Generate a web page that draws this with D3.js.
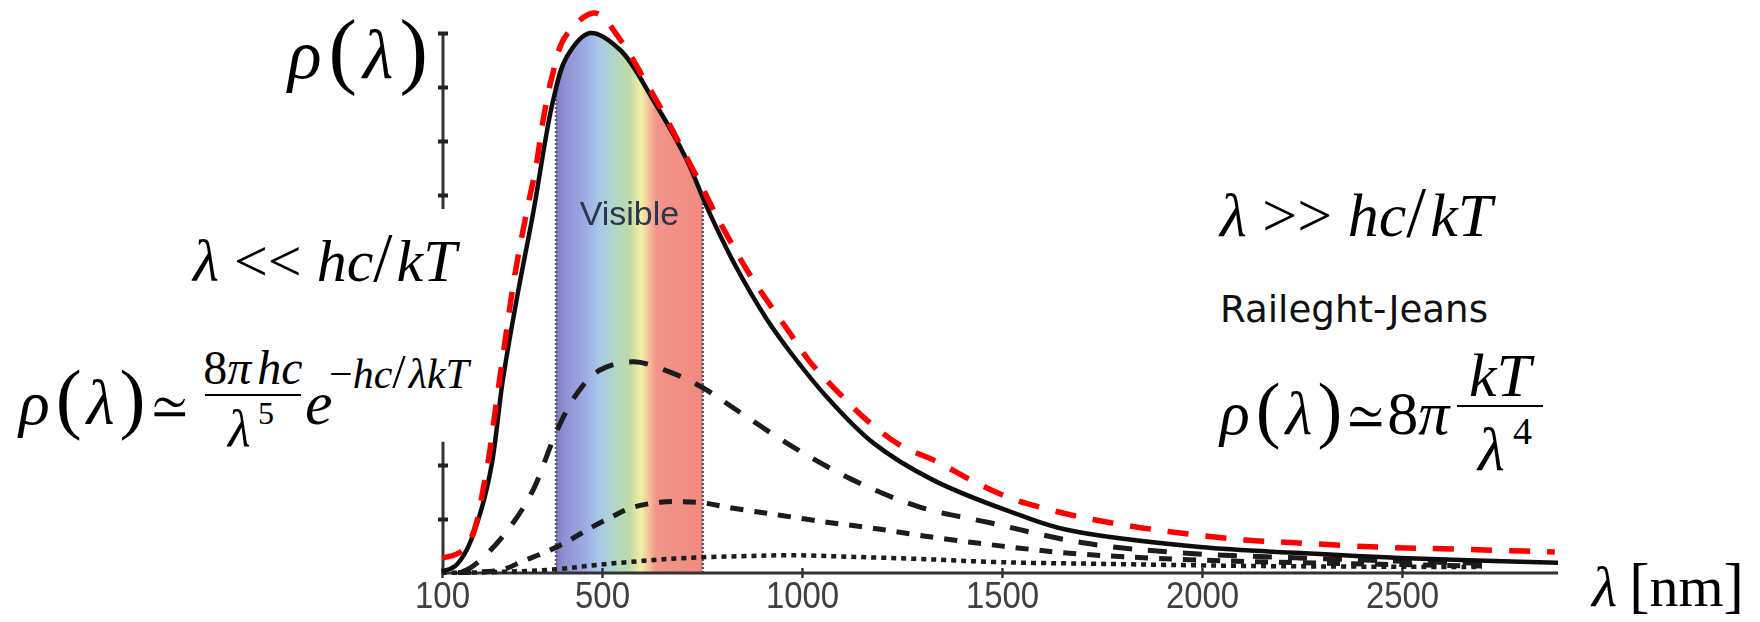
<!DOCTYPE html>
<html>
<head>
<meta charset="utf-8">
<script src="https://cdnjs.cloudflare.com/ajax/libs/d3/7.8.5/d3.min.js"></script>
<style>
  html, body { margin: 0; padding: 0; background: #fff; }
  svg { display: block; }
</style>
</head>
<body>
<script>
const width = 1760, height = 622;

// axis ticks
const xTicks = [100, 500, 1000, 1500, 2000, 2500];
const yTicksTop = [7, 8, 9, 10];
const yTicksBottom = [1, 2];
const visibleBand = [385, 752];

// curves: [wavelength nm, rho (arb. units)]
const solidCurve = [[100,0.03],[133,0.13],[162,0.43],[200,1.22],[225,2.04],[252,3.57],[290,5.2],[328,6.67],[378,8.76],[412,9.56],[470,10.0],[545,9.69],[628,8.76],[712,7.65],[762,6.78],[830,5.74],[912,4.7],[980,4.0],[1062,3.26],[1178,2.41],[1328,1.72],[1545,1.07],[1662,0.8],[1995,0.48],[2245,0.37],[2495,0.28],[2890,0.19]];
const longDashCurve = [[150,0.02],[170,0.09],[220,0.41],[278,0.93],[328,1.54],[388,2.65],[438,3.33],[495,3.76],[580,3.91],[670,3.72],[752,3.43],[828,3.06],[970,2.37],[1128,1.72],[1295,1.22],[1470,0.93],[1702,0.56],[1952,0.37],[2245,0.28],[2495,0.22],[2700,0.18]];
const midDashCurve = [[140,0.01],[250,0.06],[302,0.22],[360,0.39],[415,0.59],[465,0.81],[520,1.02],[570,1.2],[645,1.31],[700,1.32],[752,1.3],[812,1.22],[890,1.13],[945,1.07],[1062,0.94],[1178,0.83],[1300,0.69],[1432,0.56],[1545,0.46],[1662,0.37],[1808,0.3],[1995,0.24],[2245,0.19],[2700,0.13]];
const dotCurve = [[100,0],[245,0.02],[388,0.07],[488,0.15],[595,0.22],[712,0.28],[845,0.31],[970,0.33],[1120,0.3],[1295,0.26],[1495,0.2],[1745,0.17],[2120,0.13],[2700,0.11]];
const redCurve = [[100,0.28],[142,0.37],[170,0.61],[188,0.98],[200,1.44],[218,2.19],[235,3.11],[258,4.31],[282,5.52],[315,6.81],[335,7.52],[352,8.35],[375,9.19],[408,9.93],[482,10.37],[550,9.83],[602,9.19],[650,8.57],[702,7.83],[750,7.15],[788,6.59],[870,5.52],[970,4.44],[1020,3.91],[1090,3.35],[1162,2.83],[1245,2.37],[1338,2.06],[1428,1.7],[1520,1.39],[1620,1.17],[1720,1.0],[1820,0.87],[1925,0.76],[2108,0.61],[2232,0.56],[2438,0.48],[2642,0.44],[2882,0.39]];

const svg = d3.select("body").append("svg")
  .attr("width", width)
  .attr("height", height);

svg.append("rect").attr("width", width).attr("height", height).attr("fill", "#fff");

const x = d3.scaleLinear().domain([100, 2890]).range([442, 1558]);
const y = d3.scaleLinear().domain([0, 10]).range([573, 33]);

const line = d3.line()
  .x(d => x(d[0]))
  .y(d => y(d[1]))
  .curve(d3.curveCatmullRom.alpha(0.5));

const area = d3.area()
  .x(d => x(d[0]))
  .y0(y(0))
  .y1(d => y(d[1]))
  .curve(d3.curveCatmullRom.alpha(0.5));

const defs = svg.append("defs");

// spectrum colours for the visible band
const grad = defs.append("linearGradient")
  .attr("id", "spectrum")
  .attr("gradientUnits", "userSpaceOnUse")
  .attr("x1", x(visibleBand[0])).attr("x2", x(visibleBand[1]))
  .attr("y1", 0).attr("y2", 0);
const stops = [
  [0, "#7f7cc2"], [0.06, "#8f90d3"], [0.2, "#9eabe3"], [0.3, "#a9c9e8"],
  [0.4, "#b2d6c6"], [0.5, "#bfdaa8"], [0.58, "#f2efa6"], [0.63, "#f5c49a"],
  [0.68, "#f2958a"], [1, "#f08a80"]
];
grad.selectAll("stop").data(stops).enter().append("stop")
  .attr("offset", d => d[0]).attr("stop-color", d => d[1]);

defs.append("clipPath").attr("id", "underSolid")
  .append("path").attr("d", area(solidCurve));

defs.append("filter").attr("id", "soft")
  .append("feGaussianBlur").attr("stdDeviation", 0.7);

// visible band
svg.append("rect")
  .attr("x", x(visibleBand[0]))
  .attr("y", y(10.5))
  .attr("width", x(visibleBand[1]) - x(visibleBand[0]))
  .attr("height", y(0) - y(10.5))
  .attr("fill", "url(#spectrum)")
  .attr("clip-path", "url(#underSolid)");

svg.selectAll(".bandEdge")
  .data(visibleBand)
  .enter().append("line")
  .attr("class", "bandEdge")
  .attr("x1", d => x(d)).attr("x2", d => x(d))
  .attr("y1", y(0)).attr("y2", y(10.5))
  .attr("stroke", "#5a5670")
  .attr("stroke-width", 2.5)
  .attr("stroke-dasharray", "2,2")
  .attr("clip-path", "url(#underSolid)");

// axes
const xAxis = svg.append("g")
  .attr("transform", `translate(0,${y(0)})`)
  .call(d3.axisBottom(x).tickValues(xTicks).tickSize(0).tickPadding(0).tickFormat(d3.format("d")));
xAxis.select(".domain")
  .attr("stroke", "#333").attr("stroke-width", 3).attr("d", `M${x(100)},0H${x(2890)}`);
xAxis.selectAll(".tick line").attr("y1", -5).attr("y2", 5)
  .attr("stroke", "#333").attr("stroke-width", 2.5);
xAxis.selectAll(".tick text")
  .style("font-family", "'Liberation Sans'")
  .attr("y", 35)
  .attr("dy", 0)
  .attr("font-size", 36)
  .attr("fill", "#3f3f3f")
  .attr("textLength", d => String(d).length * 18.3)
  .attr("lengthAdjust", "spacingAndGlyphs")
  .attr("filter", "url(#soft)");

function yAxisPart(ticks, from, to) {
  const g = svg.append("g")
    .attr("transform", `translate(${x(100) + 1},0)`)
    .call(d3.axisLeft(y).tickValues(ticks).tickSize(0).tickFormat(""));
  g.select(".domain")
    .attr("d", `M0,${y(from)}V${y(to)}`)
    .attr("stroke", "#333").attr("stroke-width", 3);
  g.selectAll(".tick line").attr("x1", -5).attr("x2", 5)
    .attr("stroke", "#222").attr("stroke-width", 4);
}
yAxisPart(yTicksTop, 6.74, 10);
yAxisPart(yTicksBottom, 0, 2.43);

// curves
const curves = [
  { data: dotCurve, dash: "5,5", width: 4.5, color: "#1a1a1a" },
  { data: midDashCurve, dash: "13,11", width: 5, color: "#1a1a1a" },
  { data: longDashCurve, dash: "19,16", width: 5, color: "#1a1a1a" },
  { data: solidCurve, dash: null, width: 4.5, color: "#111" }
];
svg.selectAll(".curve")
  .data(curves)
  .enter().append("path")
  .attr("class", "curve")
  .attr("d", d => line(d.data))
  .attr("fill", "none")
  .attr("stroke", d => d.color)
  .attr("stroke-width", d => d.width)
  .attr("stroke-dasharray", d => d.dash)
  .attr("filter", "url(#soft)");

svg.append("path")
  .attr("d", line(redCurve))
  .attr("fill", "none")
  .attr("stroke", "#ff0000")
  .attr("stroke-width", 5.5)
  .attr("stroke-dasharray", "21,17");

// band label
svg.append("text")
  .style("font-family", "'Liberation Sans'")
  .attr("x", (x(visibleBand[0]) + x(visibleBand[1])) / 2)
  .attr("y", 225)
  .attr("text-anchor", "middle")
  .attr("font-size", 34)
  .attr("fill", "#2c3450")
  .attr("filter", "url(#soft)")
  .text("Visible");

// formula text
function math(px, py, size, parts, anchor) {
  const t = svg.append("text")
    .style("font-family", "'Liberation Serif'")
    .attr("x", px).attr("y", py)
    .attr("font-size", size)
    .attr("fill", "#000")
    .attr("text-anchor", anchor || "start");
  parts.forEach(p => {
    const s = t.append("tspan").text(p.t);
    if (p.i) s.style("font-style", "italic");
    if (p.f) s.style("font-family", p.f);
    if (p.s) s.attr("font-size", size * p.s);
    if (p.dy) s.attr("dy", p.dy);
    if (p.dx) s.attr("dx", p.dx);
  });
  return t;
}

function fracBar(x1, x2, yy) {
  svg.append("line").attr("x1", x1).attr("x2", x2).attr("y1", yy).attr("y2", yy)
    .attr("stroke", "#000").attr("stroke-width", 2.2);
}

function rho(a, b, c, ps) {
  return [
    { t: "ρ", i: true }, { t: "(", s: ps || 1.2, dx: a }, { t: "λ", i: true, dx: b }, { t: ")", s: ps || 1.2, dx: c }
  ];
}

// top y label
math(288, 78, 70, rho(7, 6, 6, 1.22));

// left: short wavelength limit
math(193, 281, 60, [
  { t: "λ", i: true }, { t: " << " }, { t: "hc", i: true }, { t: "/", s: 1.15 }, { t: "kT", i: true, dx: 4 }
]);
math(19, 424, 64, rho(6, 5, 5, 1.22).concat([{ t: "≃", f: "FreeSerif", s: 0.95, dx: 7 }]));
math(253, 384, 48, [{ t: "8" }, { t: "π", i: true }, { t: "hc", i: true, dx: 6 }], "middle");
fracBar(205, 301, 395);
math(228, 446, 52, [{ t: "λ", i: true }]);
math(258, 424, 32, [{ t: "5" }]);
math(305, 424, 62, [{ t: "e", i: true }]);
math(329, 388, 42, [{ t: "−" }, { t: "hc", i: true }, { t: "/", s: 1.15 }, { t: "λkT", i: true, dx: 3 }]);

// right: long wavelength limit
math(1220, 236, 62, [
  { t: "λ", i: true }, { t: " >> " }, { t: "hc", i: true }, { t: "/", s: 1.15 }, { t: "kT", i: true, dx: 4 }
]);
svg.append("text")
  .attr("x", 1220).attr("y", 322)
  .style("font-family", "'DejaVu Sans'")
  .attr("font-size", 38)
  .attr("fill", "#111")
  .attr("textLength", 268)
  .attr("lengthAdjust", "spacingAndGlyphs")
  .text("Raileght-Jeans");
math(1220, 434, 62, rho(6, 5, 5).concat([{ t: "≃", f: "FreeSerif", dx: 6 }, { t: "8", dx: 4 }, { t: "π", i: true }]));
math(1500, 396, 62, [{ t: "kT", i: true }], "middle");
fracBar(1457, 1543, 406);
math(1478, 470, 62, [{ t: "λ", i: true }]);
math(1513, 444, 38, [{ t: "4" }]);

// x axis title
math(1592, 606, 58, [{ t: "λ", i: true }, { t: "[", s: 1.05, dx: 12 }, { t: "nm" }, { t: "]", s: 1.05 }]);
</script>
</body>
</html>
